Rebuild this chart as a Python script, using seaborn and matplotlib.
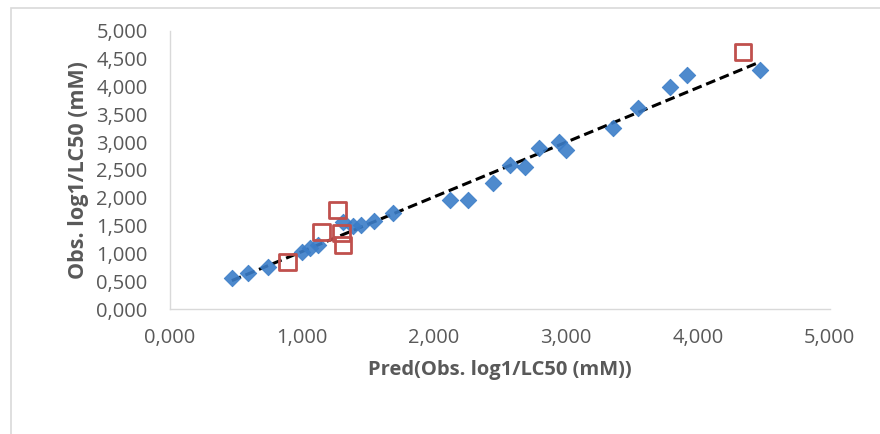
import numpy as np
import pandas as pd
import matplotlib
matplotlib.use("Agg")
import matplotlib.pyplot as plt
import seaborn as sns
from matplotlib.ticker import FuncFormatter, MultipleLocator
from matplotlib.patches import Rectangle

# training set (blue diamonds)
train_pred = [0.47, 0.59, 0.74, 1.00, 1.06, 1.12, 1.31, 1.39, 1.45, 1.55, 1.69,
              2.12, 2.26, 2.45, 2.58, 2.69, 2.80, 2.95, 3.00, 3.36, 3.55, 3.79,
              3.92, 4.47]
train_obs = [0.56, 0.65, 0.76, 1.03, 1.10, 1.15, 1.56, 1.50, 1.51, 1.58, 1.73,
             1.96, 1.96, 2.27, 2.59, 2.55, 2.89, 3.00, 2.86, 3.26, 3.61, 4.00,
             4.21, 4.30]

# test set (red hollow squares)
test_pred = [0.89, 1.15, 1.27, 1.30, 1.31, 4.34]
test_obs = [0.85, 1.38, 1.78, 1.37, 1.15, 4.62]

train = pd.DataFrame({"pred": train_pred, "obs": train_obs})
test = pd.DataFrame({"pred": test_pred, "obs": test_obs})

sns.set_style("white")
plt.rcParams["font.family"] = ["Open Sans", "DejaVu Sans"]

fig = plt.figure(figsize=(8.8, 4.34), dpi=100)
ax = fig.add_axes([0.193, 0.288, 0.75, 0.6406])

# outer chart border
fig.patches.append(Rectangle((0.013, -0.01), 1.0, 0.992, transform=fig.transFigure,
                             fill=False, edgecolor="#d9d9d9", linewidth=1.2))

sns.regplot(data=train, x="pred", y="obs", ax=ax, scatter=False, ci=None,
            line_kws={"color": "black", "linestyle": (0, (3.2, 1.6)), "linewidth": 2.2})
sns.scatterplot(data=train, x="pred", y="obs", ax=ax, marker="D", s=70,
                color="#3b7dc8", edgecolor="#3b7dc8", alpha=0.9, zorder=3)
sns.scatterplot(data=test, x="pred", y="obs", ax=ax, marker="s", s=140,
                facecolor="none", edgecolor="#c0504d", linewidth=2.0, zorder=4)

ax.set_xlim(0, 5)
ax.set_ylim(0, 5)
ax.xaxis.set_major_locator(MultipleLocator(1))
ax.yaxis.set_major_locator(MultipleLocator(0.5))
fmt = FuncFormatter(lambda v, p: f"{v:.3f}".replace(".", ","))
ax.xaxis.set_major_formatter(fmt)
ax.yaxis.set_major_formatter(fmt)
ax.tick_params(axis="both", length=0, colors="#595959", labelsize=14.5)
ax.tick_params(axis="x", pad=14)
ax.tick_params(axis="y", pad=16)

for side in ["top", "right"]:
    ax.spines[side].set_visible(False)
for side in ["left", "bottom"]:
    ax.spines[side].set_color("#d9d9d9")
    ax.spines[side].set_linewidth(1.0)

ax.set_xlabel("Pred(Obs. log1/LC50 (mM))", fontsize=14.5, fontweight="bold",
              color="#595959", labelpad=8)
ax.set_ylabel("Obs. log1/LC50 (mM)", fontsize=15.5, fontweight="bold",
              color="#595959", labelpad=5)

fig.savefig("out.png", dpi=100)
